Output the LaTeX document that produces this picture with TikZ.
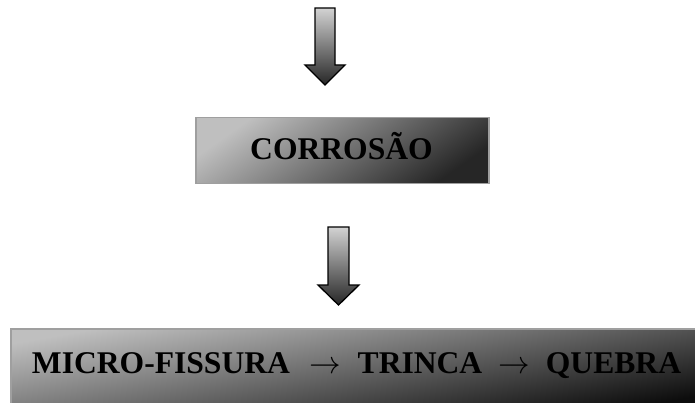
\RequirePackage{fix-cm}
\documentclass[tikz,border=0pt]{standalone}
\usepackage{fontspec}
\setmainfont{Liberation Serif}
\begin{document}
\begin{tikzpicture}[x=1pt,y=-1pt,
  lbl/.style={anchor=base,inner sep=0pt,font=\bfseries\fontsize{31.6}{36}\selectfont},
  downarrow/.style={draw=black,line width=1.3pt,line join=miter,top color=gray!35,bottom color=black!85},
  boxA/.style={draw=gray!75,line width=1.5pt,shading=axis,top color=gray!50,bottom color=black!85,shading angle=35},
  boxB/.style={draw=gray!75,line width=1.5pt,shading=axis,top color=gray!50,bottom color=black!95,shading angle=10}]
\useasboundingbox (0,0) rectangle (695,403);
% arrow 1
\draw[downarrow] (315,8) -- (335,8) -- (335,65) -- (345,65) -- (325,85) -- (305,65) -- (315,65) -- cycle;
% box 1
\node[boxA,minimum width=293pt,minimum height=66pt,anchor=north west,inner sep=0pt] (corr) at (195,117) {};
\node[lbl] (t1) at (341.5,160) {CORROSÃO};
% arrow 2
\draw[downarrow] (328,227) -- (349,227) -- (349,285) -- (359,285) -- (338.5,305) -- (318,285) -- (328,285) -- cycle;
% box 2
\begin{scope}
\clip (0,0) rectangle (695,403);
\path[boxB] (11,329) rectangle (700,410);
\end{scope}
\node[lbl] (m) at (161,373) {MICRO-FISSURA};
\node[lbl] (a1) at (325,373) {$\rightarrow$};
\node[lbl] (tr) at (420,373) {TRINCA};
\node[lbl] (a2) at (514,373) {$\rightarrow$};
\node[lbl] (q) at (613.5,373) {QUEBRA};
\end{tikzpicture}
\end{document}
